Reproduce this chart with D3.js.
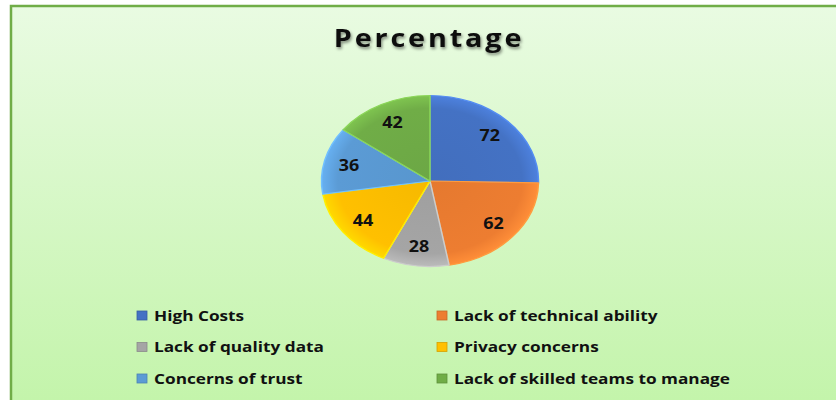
<!DOCTYPE html>
<html>
<head>
<meta charset="utf-8">
<script src="https://cdn.jsdelivr.net/npm/d3@7"></script>
<style>
  body { margin: 0; background: #fff; }
  svg { display: block; font-family: "Open Sans", sans-serif; }
</style>
</head>
<body>
<svg width="836" height="400"></svg>
<script>
(function (d3) {
  "use strict";

  const title = "Percentage";
  const categories = [
    "High Costs",
    "Lack of technical ability",
    "Lack of quality data",
    "Privacy concerns",
    "Concerns of trust",
    "Lack of skilled teams to manage"
  ];
  const values = [72, 62, 28, 44, 36, 42];
  const colors = ["#4472c4", "#ed7d31", "#a5a5a5", "#ffc000", "#5b9bd5", "#70ad47"];

  const svg = d3.select("svg");
  const width = +svg.attr("width");
  const height = +svg.attr("height");

  const defs = svg.append("defs");

  // background gradient
  const bg = defs.append("linearGradient")
    .attr("id", "bg").attr("x1", 0).attr("y1", 0).attr("x2", 0).attr("y2", 1);
  bg.append("stop").attr("offset", "0%").attr("stop-color", "#e9fbe2");
  bg.append("stop").attr("offset", "100%").attr("stop-color", "#c3f4aa");

  svg.append("rect")
    .attr("x", 11).attr("y", 6)
    .attr("width", width).attr("height", height)
    .attr("fill", "url(#bg)")
    .attr("stroke", "#70ad47")
    .attr("stroke-width", 2.5);

  // title with soft shadow
  const shadow = defs.append("filter").attr("id", "shadow")
    .attr("x", "-10%").attr("y", "-30%").attr("width", "120%").attr("height", "160%");
  shadow.append("feDropShadow")
    .attr("dx", 1).attr("dy", 2).attr("stdDeviation", 1.5)
    .attr("flood-color", "#000").attr("flood-opacity", 0.45);

  svg.append("text")
    .attr("transform", "translate(429,47) scale(1.15,1)")
    .attr("text-anchor", "middle")
    .attr("font-size", 25)
    .attr("font-weight", 700)
    .attr("letter-spacing", 2.5)
    .attr("fill", "#111")
    .attr("filter", "url(#shadow)")
    .text(title);

  // pie (flattened into an ellipse)
  const cx = 430, cy = 181, rx = 108.5, ry = 85.5;
  const pie = d3.pie().sort(null).value((d) => d);
  const arcs = pie(values);
  const arc = d3.arc().innerRadius(0).outerRadius(rx);
  const labelArc = d3.arc().innerRadius(rx * 0.77).outerRadius(rx * 0.77);

  colors.forEach((c, i) => {
    const g = defs.append("radialGradient")
      .attr("id", "sl" + i)
      .attr("gradientUnits", "userSpaceOnUse")
      .attr("cx", 0).attr("cy", 0).attr("r", rx);
    g.append("stop").attr("offset", "0%").attr("stop-color", d3.color(c).darker(0.1));
    g.append("stop").attr("offset", "85%").attr("stop-color", c);
    g.append("stop").attr("offset", "100%").attr("stop-color", d3.color(c).brighter(0.35));
  });

  const pieG = svg.append("g")
    .attr("transform", `translate(${cx},${cy}) scale(1,${ry / rx})`);

  pieG.selectAll("path")
    .data(arcs)
    .enter()
    .append("path")
    .attr("d", arc)
    .attr("fill", (d, i) => `url(#sl${i})`)
    .attr("stroke", (d, i) => d3.color(colors[i]).brighter(0.6))
    .attr("stroke-width", 1.5)
    .attr("stroke-linejoin", "round");

  svg.append("g")
    .attr("transform", `translate(${cx},${cy})`)
    .selectAll("text")
    .data(arcs)
    .enter()
    .append("text")
    .attr("transform", (d) => {
      const [x, y] = labelArc.centroid(d);
      return `translate(${x},${y * ry / rx}) scale(1.12,1)`;
    })
    .attr("dy", "0.35em")
    .attr("text-anchor", "middle")
    .attr("font-size", 16)
    .attr("font-weight", 700)
    .attr("fill", "#111")
    .text((d) => d.data);

  // legend, two columns
  const legendX = d3.scaleOrdinal().domain([0, 1]).range([137, 437]);
  const legendY = d3.scalePoint().domain([0, 1, 2]).range([316, 379]);

  const items = svg.append("g")
    .selectAll("g")
    .data(categories)
    .enter()
    .append("g")
    .attr("transform", (d, i) => `translate(${legendX(i % 2)},${legendY(Math.floor(i / 2))})`);

  items.append("rect")
    .attr("x", 0).attr("y", -5)
    .attr("width", 10).attr("height", 9)
    .attr("fill", (d, i) => colors[i])
    .attr("stroke", (d, i) => d3.color(colors[i]).darker(0.5))
    .attr("stroke-width", 0.8);

  items.append("text")
    .attr("transform", "translate(17,0) scale(1.23,1)")
    .attr("dy", "0.35em")
    .attr("font-size", 14)
    .attr("font-weight", 700)
    .attr("fill", "#111")
    .text((d) => d);
})(d3);
</script>
</body>
</html>
